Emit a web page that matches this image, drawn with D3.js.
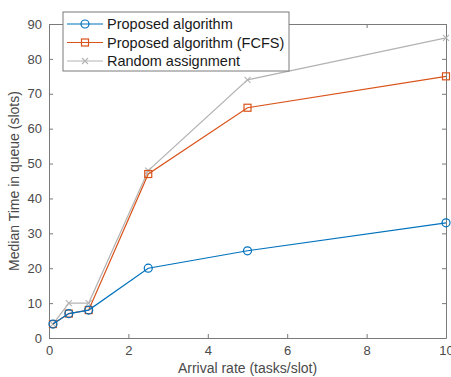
<!DOCTYPE html>
<html>
<head>
<meta charset="utf-8">
<script src="https://cdn.jsdelivr.net/npm/d3@7"></script>
<style>
  body { margin: 0; background: #fff; }
  text { font-family: "Liberation Sans", Arial, sans-serif; }
</style>
</head>
<body>
<div id="chart"></div>
<script>
// data
var arrivalRates = [0.1, 0.5, 1, 2.5, 5, 10];
var proposed = [4, 7, 8, 20, 25, 33];
var proposedFCFS = [4, 7, 8, 47, 66, 75];
var randomAssign = [4, 10, 10, 48, 74, 86];
var xTicks = [0, 2, 4, 6, 8, 10];
var yTicks = [0, 10, 20, 30, 40, 50, 60, 70, 80, 90];
var seriesNames = ["Proposed algorithm", "Proposed algorithm (FCFS)", "Random assignment"];

var svgWidth = 451, svgHeight = 377;
var margin = { top: 24, right: 5, bottom: 39, left: 49 };
var width = svgWidth - margin.left - margin.right;
var height = svgHeight - margin.top - margin.bottom;
var axisColor = "#7a7a7a", textColor = "#4a4a4a";

var svg = d3.select("#chart").append("svg")
  .attr("width", svgWidth)
  .attr("height", svgHeight);

var x = d3.scaleLinear().domain([0, 10]).range([0, width]);
var y = d3.scaleLinear().domain([0, 90]).range([height, 0]);

var g = svg.append("g")
  .attr("transform", "translate(" + margin.left + "," + margin.top + ")");

function styleAxis(sel, hideText) {
  sel.select(".domain").attr("stroke", axisColor);
  sel.selectAll(".tick line").attr("stroke", axisColor);
  sel.selectAll(".tick text")
    .attr("fill", textColor)
    .attr("font-size", "13px")
    .attr("font-family", "Liberation Sans, Arial, sans-serif");
  if (hideText) sel.selectAll(".tick text").remove();
}

// bottom / left with labels, top / right as box with inward ticks
g.append("g").attr("transform", "translate(0," + height + ")")
  .call(d3.axisBottom(x).tickValues(xTicks).tickSizeInner(-4).tickSizeOuter(0).tickPadding(8))
  .call(styleAxis);
g.append("g")
  .call(d3.axisTop(x).tickValues(xTicks).tickSizeInner(-4).tickSizeOuter(0))
  .call(styleAxis, true);
g.append("g")
  .call(d3.axisLeft(y).tickValues(yTicks).tickSizeInner(-4).tickSizeOuter(0).tickPadding(7))
  .call(styleAxis);
g.append("g").attr("transform", "translate(" + width + ",0)")
  .call(d3.axisRight(y).tickValues(yTicks).tickSizeInner(-4).tickSizeOuter(0))
  .call(styleAxis, true);

// axis titles
svg.append("text")
  .attr("x", margin.left + width / 2)
  .attr("y", 373)
  .attr("text-anchor", "middle")
  .attr("font-size", "14px")
  .attr("fill", textColor)
  .text("Arrival rate (tasks/slot)");
svg.append("text")
  .attr("transform", "translate(19," + (margin.top + height / 2) + ") rotate(-90)")
  .attr("text-anchor", "middle")
  .attr("font-size", "14px")
  .attr("fill", textColor)
  .text("Median Time in queue (slots)");

var series = [
  { name: seriesNames[0], values: proposed, color: "#0072BD", marker: "circle" },
  { name: seriesNames[1], values: proposedFCFS, color: "#D95319", marker: "square" },
  { name: seriesNames[2], values: randomAssign, color: "#b3b3b3", marker: "cross" }
];

var line = d3.line()
  .x(function (d) { return x(d[0]); })
  .y(function (d) { return y(d[1]); });

function drawMarker(sel, type, color, cx, cy) {
  if (type === "circle") {
    sel.append("circle").attr("cx", cx).attr("cy", cy).attr("r", 4)
      .attr("fill", "none").attr("stroke", color).attr("stroke-width", 1.2);
  } else if (type === "square") {
    sel.append("rect").attr("x", cx - 3.5).attr("y", cy - 3.5)
      .attr("width", 7).attr("height", 7)
      .attr("fill", "none").attr("stroke", color).attr("stroke-width", 1.2);
  } else {
    sel.append("path")
      .attr("d", "M" + (cx - 3) + "," + (cy - 3) + "L" + (cx + 3) + "," + (cy + 3) +
        "M" + (cx - 3) + "," + (cy + 3) + "L" + (cx + 3) + "," + (cy - 3))
      .attr("stroke", color).attr("stroke-width", 1.1);
  }
}

// draw in reverse so blue sits on top
series.slice().reverse().forEach(function (s) {
  var pts = arrivalRates.map(function (r, i) { return [r, s.values[i]]; });
  var sg = g.append("g");
  sg.append("path")
    .attr("d", line(pts))
    .attr("fill", "none")
    .attr("stroke", s.color)
    .attr("stroke-width", 1.2);
  pts.forEach(function (p) {
    drawMarker(sg, s.marker, s.color, x(p[0]), y(p[1]));
  });
});

// legend
var legend = svg.append("g").attr("transform", "translate(63,12)");
legend.append("rect")
  .attr("width", 226).attr("height", 59)
  .attr("fill", "#fff").attr("stroke", axisColor);
series.forEach(function (s, i) {
  var ly = 12 + i * 18.5;
  var row = legend.append("g");
  row.append("line").attr("x1", 4).attr("x2", 40).attr("y1", ly).attr("y2", ly)
    .attr("stroke", s.color).attr("stroke-width", 1.2);
  drawMarker(row, s.marker, s.color, 22, ly);
  row.append("text")
    .attr("x", 44).attr("y", ly + 5)
    .attr("font-size", "14.5px")
    .attr("fill", "#1a1a1a")
    .text(s.name);
});
</script>
</body>
</html>
